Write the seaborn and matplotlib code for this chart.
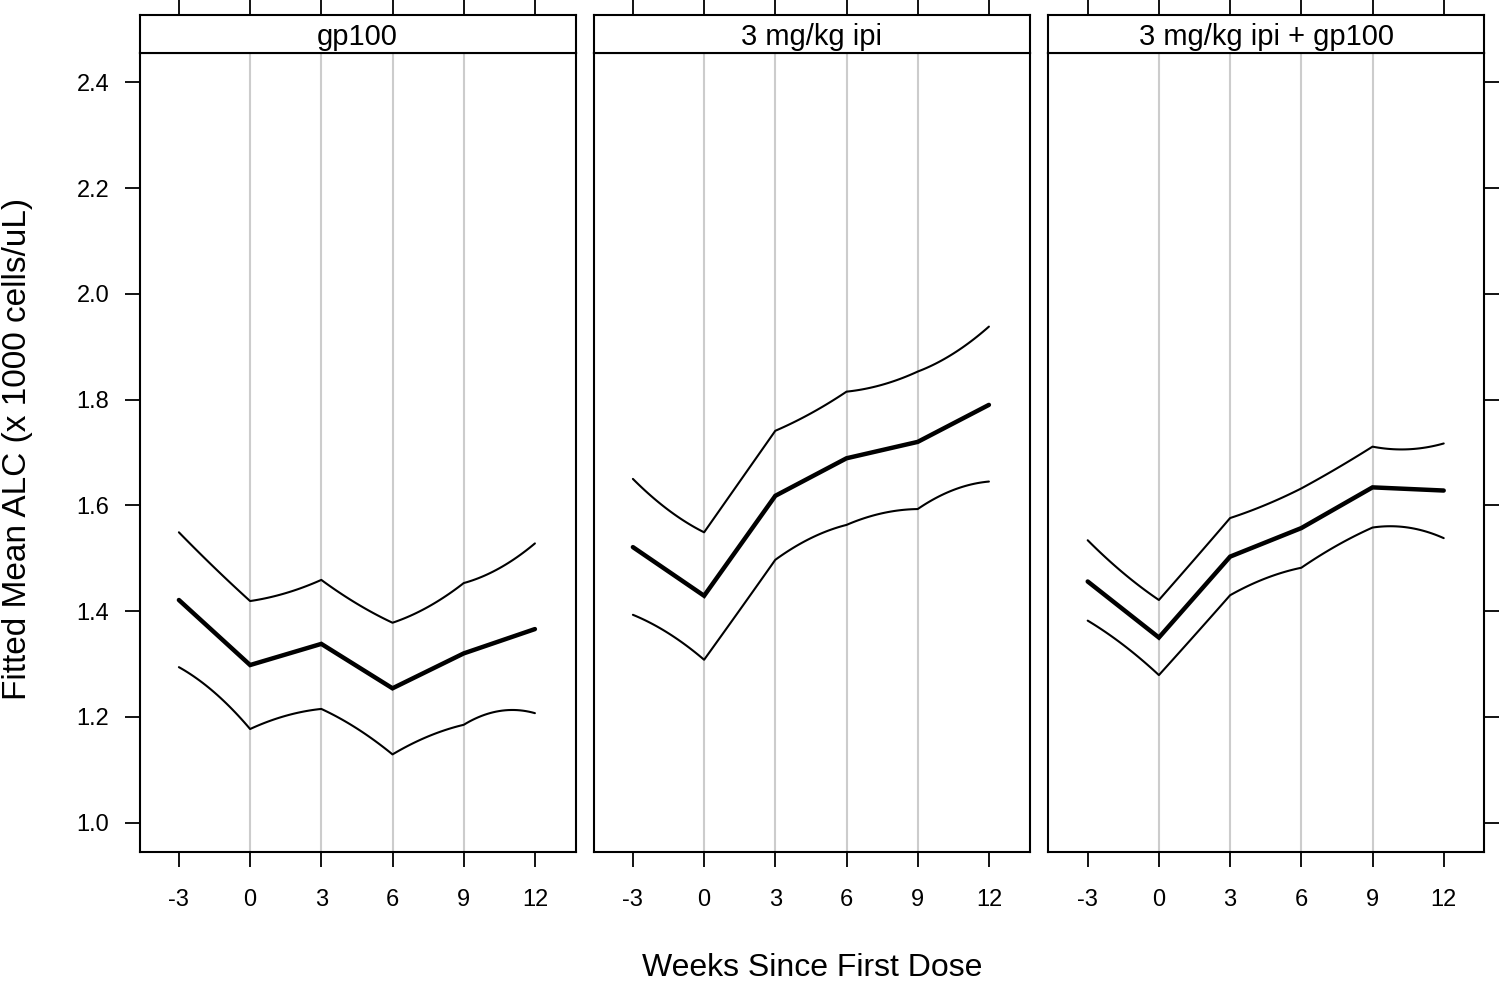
import numpy as np
import pandas as pd
import matplotlib
matplotlib.use("Agg")
import matplotlib.pyplot as plt
import seaborn as sns

# ---------------- data ----------------
panels = ["gp100", "3 mg/kg ipi", "3 mg/kg ipi + gp100"]
weeks = [-3, 0, 3, 6, 9, 12]
# bounds read at every 1.5 weeks (curved between visits)
bound_weeks = [-3, -1.5, 0, 1.5, 3, 4.5, 6, 7.5, 9, 10.5, 12]

mean_gp100 = [1.421, 1.298, 1.338, 1.254, 1.320, 1.366]
upper_gp100 = [1.549, 1.482, 1.419, 1.434, 1.459, 1.414, 1.378, 1.408, 1.453, 1.481, 1.528]
lower_gp100 = [1.294, 1.246, 1.177, 1.202, 1.215, 1.178, 1.129, 1.163, 1.185, 1.211, 1.207]

mean_ipi = [1.521, 1.429, 1.618, 1.689, 1.720, 1.790]
upper_ipi = [1.650, 1.591, 1.549, 1.645, 1.741, 1.774, 1.815, 1.828, 1.853, 1.887, 1.938]
lower_ipi = [1.393, 1.358, 1.308, 1.402, 1.497, 1.538, 1.563, 1.585, 1.593, 1.629, 1.645]

mean_combo = [1.456, 1.350, 1.503, 1.557, 1.634, 1.628]
upper_combo = [1.534, 1.472, 1.421, 1.498, 1.576, 1.601, 1.632, 1.670, 1.711, 1.706, 1.717]
lower_combo = [1.382, 1.336, 1.279, 1.354, 1.430, 1.462, 1.482, 1.524, 1.558, 1.558, 1.538]

means = [mean_gp100, mean_ipi, mean_combo]
uppers = [upper_gp100, upper_ipi, upper_combo]
lowers = [lower_gp100, lower_ipi, lower_combo]

grid_weeks = [0, 3, 6, 9]
y_ticks = [1.0, 1.2, 1.4, 1.6, 1.8, 2.0, 2.2, 2.4]


def smooth_segments(xs, ys, n=25):
    """Render each visit-to-visit segment as a quadratic through start/mid/end."""
    out_x, out_y = [], []
    for i in range(0, len(xs) - 2, 2):
        px = np.array(xs[i:i + 3], dtype=float)
        py = np.array(ys[i:i + 3], dtype=float)
        c = np.polyfit(px, py, 2)
        xx = np.linspace(px[0], px[-1], n)
        if out_x:
            xx = xx[1:]
        out_x.extend(xx)
        out_y.extend(np.polyval(c, xx))
    return np.array(out_x), np.array(out_y)


# ---------------- style ----------------
sns.set_theme(style="white")
plt.rcParams["font.family"] = ["Liberation Sans", "DejaVu Sans"]

W, H = 1500, 1002
fig = plt.figure(figsize=(W / 100, H / 100), dpi=100)

lefts = [139.5, 593.5, 1048.3]
pw = 436.0
p_top, p_bot = 52.7, 851.7
s_top = 15.0
xlim = (-4.66, 13.71)
ylim = (0.945, 2.456)
tick_len = 10.8
frame_lw = 1.5

for i, name in enumerate(panels):
    L = lefts[i]
    ax = fig.add_axes([L / W, 1 - p_bot / H, pw / W, (p_bot - p_top) / H])
    st = fig.add_axes([L / W, 1 - p_top / H, pw / W, (p_top - s_top) / H])

    for g in grid_weeks:
        ax.axvline(g, color="#cccccc", lw=1.5, zorder=0)

    bx, by = smooth_segments(bound_weeks, uppers[i])
    sns.lineplot(x=bx, y=by, ax=ax, color="black", lw=1.5, estimator=None, sort=False)
    bx, by = smooth_segments(bound_weeks, lowers[i])
    sns.lineplot(x=bx, y=by, ax=ax, color="black", lw=1.5, estimator=None, sort=False)
    sns.lineplot(x=weeks, y=means[i], ax=ax, color="black", lw=3.2,
                 estimator=None, sort=False, solid_joinstyle="miter")

    ax.set_xlim(*xlim)
    ax.set_ylim(*ylim)
    ax.set_xticks(weeks)
    ax.set_xticklabels([str(w) for w in weeks])
    ax.set_yticks(y_ticks)
    ax.set_yticklabels([f"{v:.1f}" for v in y_ticks])
    ax.set_xlabel("")
    ax.set_ylabel("")
    for sp in ax.spines.values():
        sp.set_visible(True)
        sp.set_color("black")
        sp.set_linewidth(frame_lw)
    ax.tick_params(axis="x", which="both", bottom=True, top=False, direction="out",
                   length=tick_len, width=1.3, color="black", labelsize=17,
                   pad=16, labelcolor="black")
    ax.tick_params(axis="y", which="both", left=(i == 0), right=(i == 2),
                   labelleft=(i == 0), labelright=False, direction="out",
                   length=tick_len, width=1.3, color="black", labelsize=17,
                   pad=11, labelcolor="black")
    ax.set_facecolor("white")

    # strip
    st.set_xlim(*xlim)
    st.set_ylim(0, 1)
    st.set_facecolor("white")
    st.set_xticks(weeks)
    st.set_yticks([])
    st.tick_params(axis="x", bottom=False, top=True, labelbottom=False, labeltop=False,
                   direction="out", length=tick_len, width=1.3, color="black")
    for sp in st.spines.values():
        sp.set_visible(True)
        sp.set_color("black")
        sp.set_linewidth(frame_lw)
    st.text(0.5, 0.42, name, transform=st.transAxes, ha="center", va="center",
            fontsize=21, color="black")

fig.text(812 / W, 1 - 968 / H, "Weeks Since First Dose", ha="center", va="center",
         fontsize=23, color="black")
fig.text(18 / W, 1 - 449 / H, "Fitted Mean ALC (x 1000 cells/uL)", ha="center",
         va="center", rotation=90, fontsize=24, color="black")

fig.savefig("out.png", dpi=100, facecolor="white")
